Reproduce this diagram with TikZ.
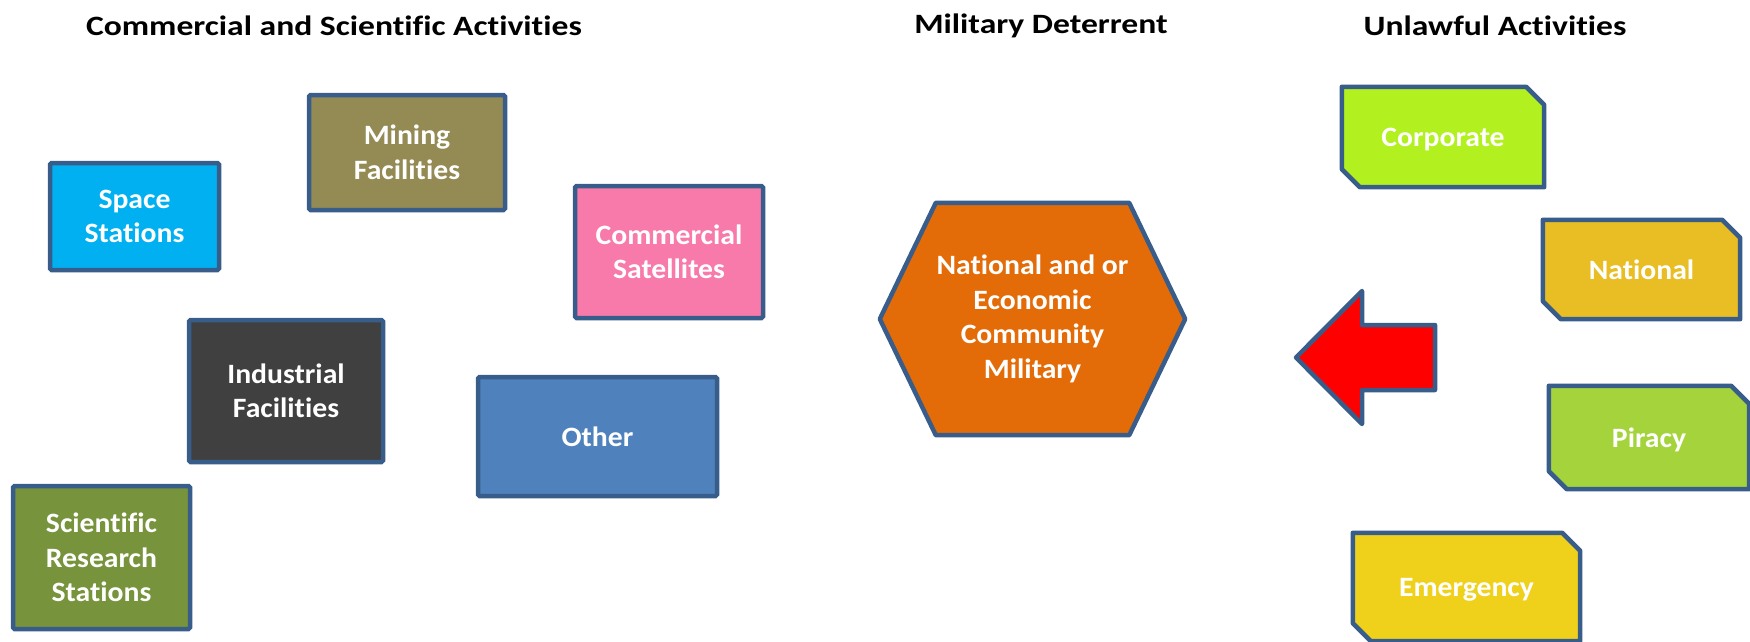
\documentclass[tikz,border=0pt]{standalone}
\usepackage{fontspec}
\setmainfont[Ligatures=NoCommon]{Carlito}
\newfontfamily\titlefam[Ligatures=NoCommon,FakeStretch=1.2]{Carlito}
\newfontfamily\boxfam[Ligatures=NoCommon,FakeStretch=1.06]{Carlito}
\usetikzlibrary{backgrounds}
\definecolor{bord}{HTML}{385D8A}
\definecolor{cSpace}{HTML}{00B0F0}
\definecolor{cMining}{HTML}{948A54}
\definecolor{cComm}{HTML}{F77AAA}
\definecolor{cIndu}{HTML}{404040}
\definecolor{cOther}{HTML}{4F81BD}
\definecolor{cSci}{HTML}{77933C}
\definecolor{cHex}{HTML}{E36C09}
\definecolor{cArrow}{HTML}{FF0000}
\definecolor{cCorp}{HTML}{B3F01F}
\definecolor{cNat}{HTML}{E8BE24}
\definecolor{cPir}{HTML}{A4D33C}
\definecolor{cEmer}{HTML}{EFD11B}
\begin{document}
\begin{tikzpicture}[x=1pt,y=-1pt,
  txt/.style={text=white, font=\boxfam\fontsize{28}{34.5}\selectfont\bfseries, align=center, inner sep=0pt},
  box/.style={txt, draw=bord, line width=4.5pt, rounded corners=1.5pt},
  plainbox/.style={txt},
  onebox/.style={txt, text depth=0pt},
  shp/.style={draw=bord, line width=4.5pt, line join=round},
  titletext/.style={font=\titlefam\fontsize{28}{34}\selectfont\bfseries, text=black, inner sep=0pt}]
\useasboundingbox (0,0) rectangle (1750,642);

% titles
\node[titletext] (t1) at (334,26) {Commercial and Scientific Activities};
\node[titletext] (t2) at (1041,26) {Military Deterrent};
\node[titletext] (t3) at (1495,26) {Unlawful Activities};

% left boxes
\node[box, fill=cSpace, minimum width=169pt, minimum height=107pt] (space) at (134.5,216.5) {Space\\Stations};
\node[box, fill=cMining, minimum width=196pt, minimum height=115pt] (mining) at (407,152.5) {Mining\\Facilities};
\node[box, fill=cComm, minimum width=188pt, minimum height=132pt] (comm) at (669,252) {Commercial\\Satellites};
\node[box, fill=cIndu, minimum width=194pt, minimum height=142pt] (indu) at (286,391) {Industrial\\Facilities};
\node[box, fill=cOther, text depth=0pt, minimum width=239pt, minimum height=119pt] (other) at (597.5,436.5) {Other};
\node[box, fill=cSci, minimum width=177pt, minimum height=143pt] (sci) at (101.5,557.5) {Scientific\\Research\\Stations};

% hexagon
\node[plainbox, minimum width=305pt, minimum height=232pt] (hex) at (1032.5,319) {National and or\\Economic\\Community\\Military};
\begin{scope}[on background layer]
\draw[shp, fill=cHex] (hex.west) -- ([xshift=56pt]hex.north west) -- ([xshift=-56pt]hex.north east)
  -- (hex.east) -- ([xshift=-56pt]hex.south east) -- ([xshift=56pt]hex.south west) -- cycle;
\end{scope}

% arrow
\coordinate (tip) at (1296,357.5);
\draw[shp, fill=cArrow] (tip) -- (1362,291) -- (1362,325) -- (1435,325) -- (1435,390) -- (1362,390) -- (1362,424) -- cycle;

% chamfered boxes
\node[onebox, minimum width=202pt, minimum height=100pt] (corp) at (1443,137) {Corporate};
\node[onebox, minimum width=197pt, minimum height=99pt] (nat) at (1641.5,269.5) {National};
\node[onebox, minimum width=200pt, minimum height=103pt] (pir) at (1649,437.5) {Piracy};
\node[onebox, minimum width=227pt, minimum height=108pt] (emer) at (1466.5,587) {Emergency};
\begin{scope}[on background layer]
\foreach \n/\c in {corp/cCorp, nat/cNat, pir/cPir, emer/cEmer}{
  \draw[shp, fill=\c] (\n.north west) -- ([xshift=-18pt]\n.north east) -- ([yshift=-18pt]\n.north east)
    -- (\n.south east) -- ([xshift=18pt]\n.south west) -- ([yshift=18pt]\n.south west) -- cycle;
}
\end{scope}
\end{tikzpicture}
\end{document}
